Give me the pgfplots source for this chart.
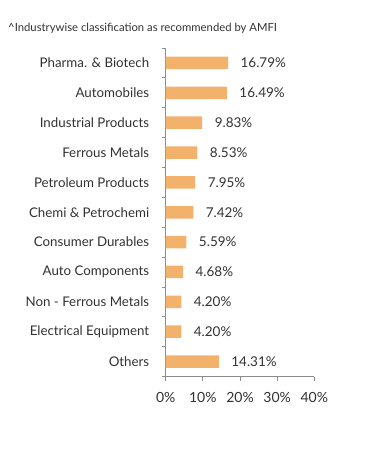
\documentclass[border=0pt]{standalone}
\usepackage{pgfplots}
\pgfplotsset{compat=1.18}
\usepackage{fontspec}
\setmainfont{Lato}
\definecolor{barc}{RGB}{242,178,107}
\definecolor{txt}{RGB}{50,50,50}
\definecolor{axc}{RGB}{140,140,140}
\begin{document}
\begin{tikzpicture}[x=1pt,y=1pt]
\path[use as bounding box] (0,0) rectangle (391,450);
\node[anchor=base west, inner sep=0pt, text=txt, font=\fontsize{11.3}{13}\selectfont] at (8,418) {\textasciicircum Industrywise classification as recommended by AMFI};
\begin{axis}[
  at={(165.7pt,73.5pt)}, anchor=south west,
  width=148.6pt, height=328.5pt, scale only axis,
  xmin=0, xmax=40, ymin=-0.5, ymax=10.5,
  y dir=reverse,
  axis x line*=bottom, axis y line*=left,
  axis line style={axc, line width=0.8pt, -},
  xtick={0,10,20,30,40},
  xticklabels={0\%,10\%,20\%,30\%,40\%},
  ytick={0,...,10},
  yticklabels={Pharma. \& Biotech,Automobiles,Industrial Products,Ferrous Metals,Petroleum Products,Chemi \& Petrochemi,Consumer Durables,Auto Components,Non - Ferrous Metals,Electrical Equipment,Others},
  minor ytick={-0.5,0.5,...,10.5},
  major tick length=4pt,
  minor tick length=4pt,
  tick style={axc, line width=0.8pt},
  major y tick style={draw=none},
  tick align=outside,
  /pgf/number format/assume math mode=true,
  yticklabel style={font=\fontsize{13.3}{15}\selectfont, text=txt, anchor=east, xshift=-9pt},
  xticklabel style={font=\fontsize{14}{16}\selectfont, text=txt, yshift=-8pt},
  xbar, bar width=12.5pt, bar shift=0pt,
  point meta=x,
  nodes near coords={\pgfmathprintnumber[fixed,precision=2,fixed zerofill,assume math mode=true]{\pgfplotspointmeta}\%},
  nodes near coords style={anchor=west, xshift=9pt, text=txt, font=\fontsize{13.5}{15}\selectfont},
  clip=false,
]
\addplot[fill=barc, draw=none] coordinates {
(16.79,0) (16.49,1) (9.83,2) (8.53,3) (7.95,4) (7.42,5) (5.59,6) (4.68,7) (4.20,8) (4.20,9) (14.31,10)
};
\end{axis}
\end{tikzpicture}
\end{document}
